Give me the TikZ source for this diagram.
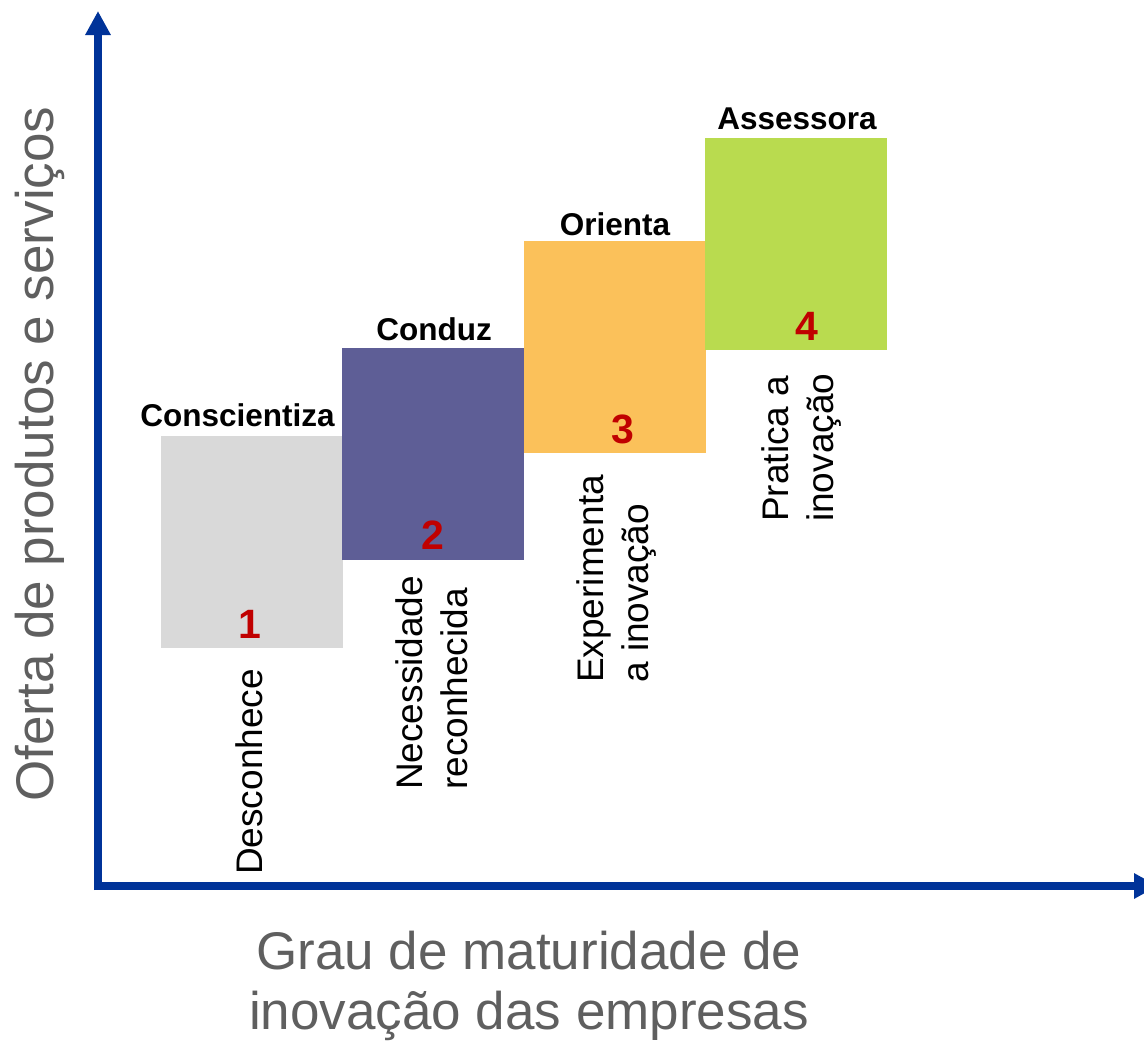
\documentclass[tikz,border=0pt]{standalone}
\usepackage{fontspec}
\setmainfont{Liberation Sans}
\usetikzlibrary{arrows.meta}
\definecolor{axisblue}{RGB}{0,51,153}
\definecolor{boxgray}{RGB}{217,217,217}
\definecolor{boxpurple}{RGB}{94,94,150}
\definecolor{boxorange}{RGB}{251,193,90}
\definecolor{boxgreen}{RGB}{185,219,79}
\definecolor{numred}{RGB}{192,0,0}
\definecolor{labelgray}{RGB}{95,95,95}
\begin{document}
\begin{tikzpicture}[x=1pt,y=-1pt,
  axis/.style={draw=axisblue,line width=8pt,-{Triangle[width=24pt,length=24pt]}},
  stepbox/.style={draw=none,minimum width=182pt,minimum height=212pt,inner sep=0pt,outer sep=0pt},
  title/.style={font=\fontsize{31.5}{36}\selectfont\bfseries,inner sep=0pt,anchor=base},
  num/.style={font=\fontsize{41}{46}\selectfont\bfseries,text=numred,inner sep=0pt},
  vlabel/.style={font=\fontsize{37}{45}\selectfont,rotate=90,align=left,inner sep=0pt},
  axlabel/.style={font=\fontsize{53}{60}\selectfont,text=labelgray,inner sep=0pt}]
\useasboundingbox (0,0) rectangle (1144,1045);
% boxes
\node[stepbox,fill=boxgray]   (b1) at (252,542) {};
\node[stepbox,fill=boxpurple] (b2) at (433,454) {};
\node[stepbox,fill=boxorange] (b3) at (615,347) {};
\node[stepbox,fill=boxgreen]  (b4) at (796,244) {};
% axes
\coordinate (o) at (98,886);
\coordinate (ybot) at (98,890);
\coordinate (ytip) at (98,11);
\coordinate (xleft) at (94,886);
\coordinate (xtip) at (1158,886);
\draw[axis] (ybot) -- (ytip);
\draw[axis] (xleft) -- (xtip);
% titles
\node[title] (t1) at (237.5,426) {Conscientiza};
\node[title] (t2) at (434,340) {Conduz};
\node[title] (t3) at (615,235) {Orienta};
\node[title] (t4) at (797,129) {Assessora};
% numbers
\node[num] (n1) at (250,624) {1};
\node[num] (n2) at (433,535) {2};
\node[num] (n3) at (623,429) {3};
\node[num] (n4) at (807,326) {4};
% rotated labels
\node[vlabel,anchor=base west] (l1) at (262,875) {Desconhece};
\node[vlabel,anchor=west] (l2) at (432,790) {Necessidade\\reconhecida};
\node[vlabel,anchor=west] (l3) at (617,683) {Experimenta\\a inovação};
\node[vlabel,anchor=west] (l4) at (802,522) {Pratica a\\inovação};
% axis labels
\node[axlabel,rotate=90,anchor=base west] (ylab) at (53,802) {Oferta de produtos e serviços};
\node[axlabel,align=center] (xlab) at (529,986) {Grau de maturidade de\\inovação das empresas};
\end{tikzpicture}
\end{document}
